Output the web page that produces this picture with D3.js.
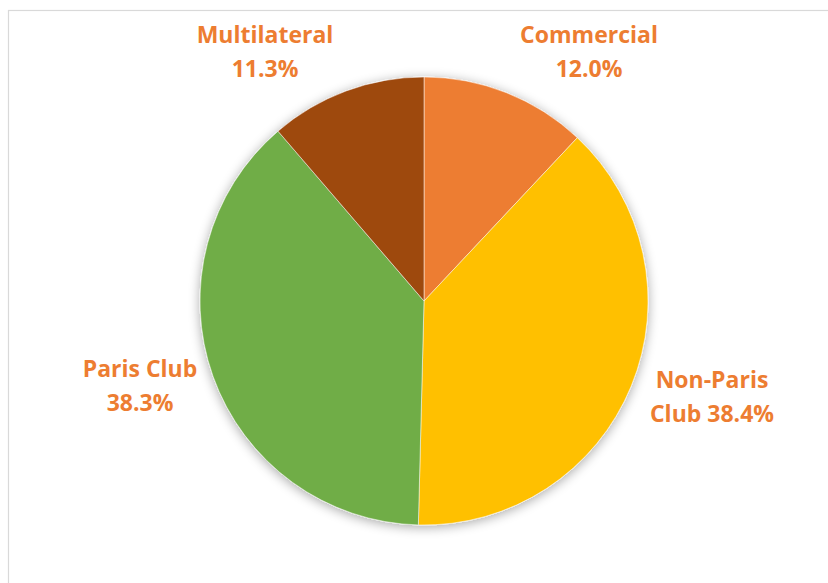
<!DOCTYPE html>
<html>
<head>
<meta charset="utf-8">
<script src="https://cdn.jsdelivr.net/npm/d3@7"></script>
<style>
  body { margin: 0; background: #fff; }
  text { font-family: "Open Sans", "Noto Sans", sans-serif; font-weight: bold; }
</style>
</head>
<body>
<div id="chart"></div>
<script>
// debt composition
const categories = ["Commercial", "Non-Paris Club", "Paris Club", "Multilateral"]
const shares = [12.0, 38.4, 38.3, 11.3]
const colors = ["#ED7D31", "#FFC000", "#70AD47", "#9E480E"]
// label lines as shown in the chart
const labelLines = [
    ["Commercial", "12.0%"],
    ["Non-Paris", "Club 38.4%"],
    ["Paris Club", "38.3%"],
    ["Multilateral", "11.3%"]
]
const labelPos = [[589, 43], [712, 388], [140, 377], [265, 43]]

const width = 828, height = 583
const cx = 424, cy = 301, radius = 224

const svg = d3.select("#chart")
    .append("svg")
    .attr("width", width)
    .attr("height", height)

// chart frame
svg.append("rect")
    .attr("x", 8.5).attr("y", 10.5)
    .attr("width", width).attr("height", height)
    .attr("fill", "none")
    .attr("stroke", "#D9D9D9")
    .attr("stroke-width", 1.2)

const defs = svg.append("defs")
const shadow = defs.append("filter")
    .attr("id", "shadow")
    .attr("x", "-20%").attr("y", "-20%")
    .attr("width", "140%").attr("height", "140%")
shadow.append("feGaussianBlur").attr("in", "SourceAlpha").attr("stdDeviation", 6)
shadow.append("feOffset").attr("dx", 0).attr("dy", 2).attr("result", "blur")
shadow.append("feComponentTransfer").append("feFuncA").attr("type", "linear").attr("slope", 0.35)
const merge = shadow.append("feMerge")
merge.append("feMergeNode")
merge.append("feMergeNode").attr("in", "SourceGraphic")

const pie = d3.pie().sort(null).value(d => d)
const arc = d3.arc().innerRadius(0).outerRadius(radius)

const g = svg.append("g")
    .attr("transform", `translate(${cx},${cy})`)
    .attr("filter", "url(#shadow)")

g.selectAll("path")
    .data(pie(shares))
    .enter()
    .append("path")
    .attr("d", arc)
    .attr("fill", (d, i) => colors[i])
    .attr("stroke", "#fff")
    .attr("stroke-width", 0.5)

const labels = svg.append("g")
    .selectAll("text")
    .data(categories)
    .enter()
    .append("text")
    .attr("text-anchor", "middle")
    .attr("fill", "#ED7D31")
    .style("font-size", "23px")
    .attr("transform", (d, i) => `translate(${labelPos[i][0]},${labelPos[i][1]})`)

labels.selectAll("tspan")
    .data((d, i) => labelLines[i])
    .enter()
    .append("tspan")
    .attr("x", 0)
    .attr("y", (d, i) => i * 34)
    .text(d => d)
</script>
</body>
</html>
